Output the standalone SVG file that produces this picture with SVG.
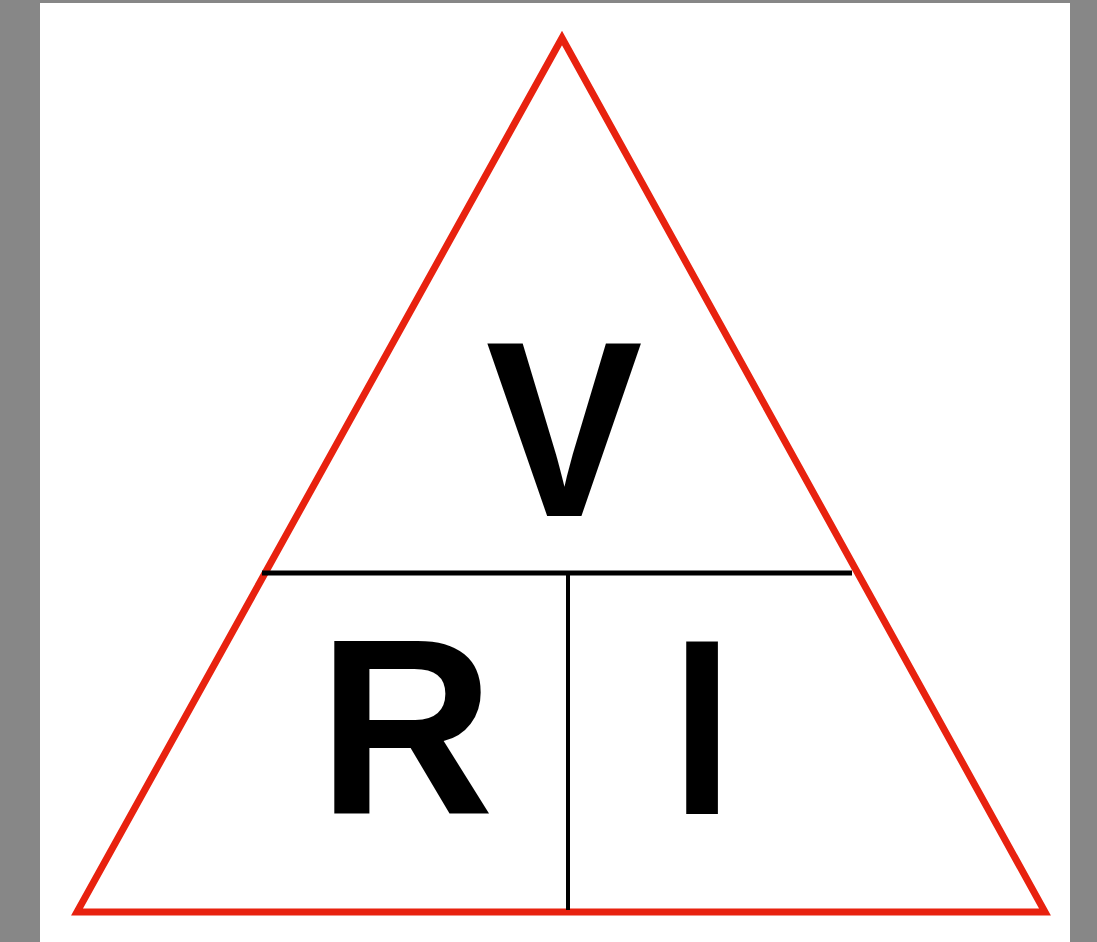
<svg xmlns="http://www.w3.org/2000/svg" width="1097" height="942" viewBox="0 0 1097 942">
<style>
.lbl{font-family:"Liberation Sans",Arial,sans-serif;font-weight:bold;font-size:250px;fill:#000;text-anchor:middle}
.div{stroke:#000;fill:none}
</style>
<rect x="0" y="0" width="1097" height="942" fill="#878787"/>
<rect x="40" y="3" width="1030" height="939" fill="#fff"/>
<g id="triangle">
<polygon points="562,38 77,912 1045,912" fill="none" stroke="#e8220f" stroke-width="7" stroke-linejoin="miter"/>
</g>
<g id="connectors">
<line class="div" x1="262" y1="573" x2="852" y2="573" stroke-width="5"/>
<line class="div" x1="568" y1="573" x2="568" y2="910" stroke-width="4"/>
</g>
<g id="node-V"><text class="lbl" transform="translate(564,516) scale(0.94,1)" x="0" y="0">V</text></g>
<g id="node-R"><text class="lbl" transform="translate(406,814) scale(0.975,1)" x="0" y="0">R</text></g>
<g id="node-I"><text class="lbl" transform="translate(702,814) scale(0.88,1)" x="0" y="0">I</text></g>
</svg>
